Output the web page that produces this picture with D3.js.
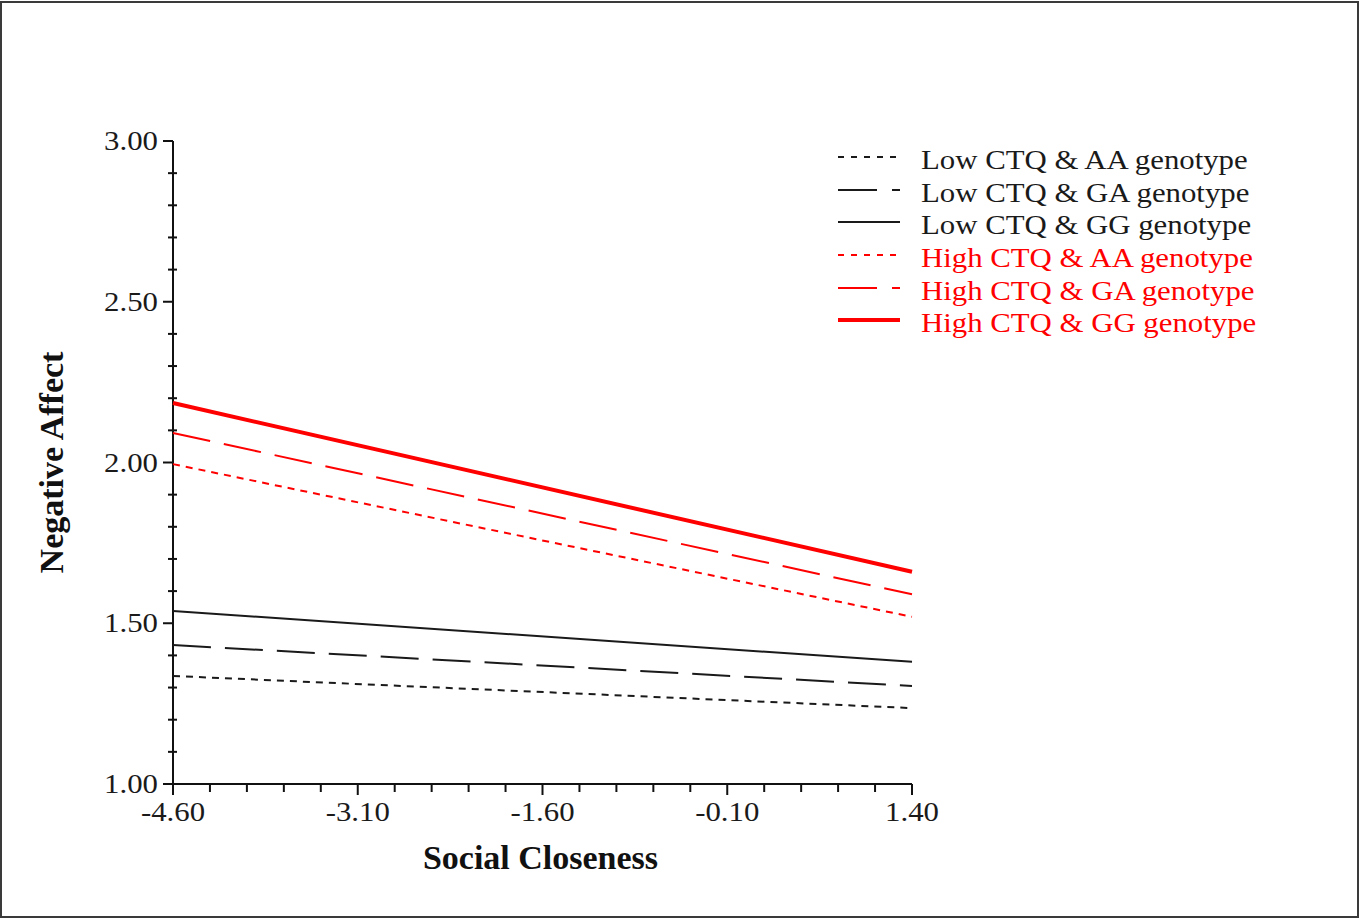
<!DOCTYPE html>
<html><head><meta charset="utf-8">
<script src="https://cdn.jsdelivr.net/npm/d3@7"></script>
<style>body{margin:0;background:#fff;}svg{display:block;}</style>
</head><body>
<svg id="chart" width="1360" height="919"></svg>
<script>
// ---- data ----
const xValues = [-4.6, 1.4];
const seriesNames = ["Low CTQ & AA genotype","Low CTQ & GA genotype","Low CTQ & GG genotype","High CTQ & AA genotype","High CTQ & GA genotype","High CTQ & GG genotype"];
const lowAA  = [1.336, 1.236];
const lowGA  = [1.432, 1.305];
const lowGG  = [1.538, 1.380];
const highAA = [1.995, 1.520];
const highGA = [2.092, 1.590];
const highGG = [2.185, 1.660];
const xTicks = [-4.6, -3.1, -1.6, -0.1, 1.4];
const yTicks = [1.0, 1.5, 2.0, 2.5, 3.0];
const xTitle = "Social Closeness";
const yTitle = "Negative Affect";

const seriesValues = [lowAA, lowGA, lowGG, highAA, highGA, highGG];
const styles = [
  {color:"#1a1a1a", width:2, dash:"7,6", legDash:"6,7"},
  {color:"#1a1a1a", width:2, dash:"38,14", legDash:"39,15,8,100"},
  {color:"#1a1a1a", width:2, dash:null, legDash:null},
  {color:"#ff0000", width:2, dash:"7,6", legDash:"6,7"},
  {color:"#ff0000", width:2, dash:"38,14", legDash:"39,15,8,100"},
  {color:"#ff0000", width:4, dash:null, legDash:null}
];

const svg = d3.select("#chart");
svg.append("rect").attr("x",1).attr("y",2).attr("width",1357).attr("height",915)
  .attr("fill","#fff").attr("stroke","#3a3a3a").attr("stroke-width",2);

const x = d3.scaleLinear().domain([-4.6, 1.4]).range([173, 912]);
const y = d3.scaleLinear().domain([1, 3]).range([784, 141]);
const font = "'Liberation Serif','Times New Roman',serif";

// axes lines
const axisColor = "#111";
svg.append("line").attr("x1",x(-4.6)).attr("x2",x(1.4)).attr("y1",y(1)).attr("y2",y(1))
  .attr("stroke",axisColor).attr("stroke-width",2);
svg.append("line").attr("x1",x(-4.6)).attr("x2",x(-4.6)).attr("y1",y(1)).attr("y2",y(3))
  .attr("stroke",axisColor).attr("stroke-width",2);

// minor ticks
const yMinor = d3.range(10, 31).map(d => d/10).filter(v => !yTicks.some(t => Math.abs(t-v)<1e-6));
svg.selectAll(".yminor").data(yMinor).join("line")
  .attr("x1",x(-4.6)-5).attr("x2",x(-4.6)+4).attr("y1",d=>y(d)).attr("y2",d=>y(d))
  .attr("stroke",axisColor).attr("stroke-width",2);
const xMinor = d3.range(0, 21).map(i => -4.6 + i*0.3).filter(v => !xTicks.some(t => Math.abs(t-v)<1e-6));
svg.selectAll(".xminor").data(xMinor).join("line")
  .attr("x1",d=>x(d)).attr("x2",d=>x(d)).attr("y1",y(1)).attr("y2",y(1)+8)
  .attr("stroke",axisColor).attr("stroke-width",2);

// major ticks + labels
svg.selectAll(".ymajor").data(yTicks).join("line")
  .attr("x1",x(-4.6)-10).attr("x2",x(-4.6)).attr("y1",d=>y(d)).attr("y2",d=>y(d))
  .attr("stroke",axisColor).attr("stroke-width",2);
svg.selectAll(".xmajor").data(xTicks).join("line")
  .attr("x1",d=>x(d)).attr("x2",d=>x(d)).attr("y1",y(1)).attr("y2",y(1)+11)
  .attr("stroke",axisColor).attr("stroke-width",2);

const fmt = d => d.toFixed(2);
svg.selectAll(".ylab").data(yTicks).join("text")
  .attr("transform", d => `translate(${x(-4.6)-15},${y(d)+9}) scale(1.1,1)`)
  .attr("text-anchor","end").attr("font-family",font).attr("font-size",28)
  .attr("fill","#1a1a1a").text(d=>fmt(d));
svg.selectAll(".xlab").data(xTicks).join("text")
  .attr("transform", d => `translate(${x(d)},${y(1)+37}) scale(1.1,1)`)
  .attr("text-anchor","middle").attr("font-family",font).attr("font-size",28)
  .attr("fill","#1a1a1a").text(d=>fmt(d));

// titles
svg.append("text").attr("x",(x(-4.6)+x(1.4))/2 - 2).attr("y",869)
  .attr("text-anchor","middle").attr("font-family",font).attr("font-weight","bold")
  .attr("font-size",34).attr("fill","#111").text(xTitle);
svg.append("text").attr("transform",`translate(63,${(y(1)+y(3))/2}) rotate(-90)`)
  .attr("text-anchor","middle").attr("font-family",font).attr("font-weight","bold")
  .attr("font-size",34).attr("fill","#111").text(yTitle);

// lines
const line = d3.line().x((d,i)=>x(xValues[i])).y(d=>y(d));
svg.selectAll(".series").data(seriesValues).join("path")
  .attr("d", d=>line(d)).attr("fill","none")
  .attr("stroke",(d,i)=>styles[i].color).attr("stroke-width",(d,i)=>styles[i].width)
  .attr("stroke-dasharray",(d,i)=>styles[i].dash);

// legend
const legY = [157, 190, 222, 255, 288, 320];
const leg = svg.selectAll(".leg").data(seriesNames).join("g")
  .attr("transform",(d,i)=>`translate(838,${legY[i]})`);
leg.append("line").attr("x1",0).attr("x2",62).attr("y1",0).attr("y2",0)
  .attr("stroke",(d,i)=>styles[i].color).attr("stroke-width",(d,i)=>styles[i].width)
  .attr("stroke-dasharray",(d,i)=>styles[i].legDash);
leg.append("text").attr("transform","translate(83,12) scale(1.1,1)")
  .attr("font-family",font).attr("font-size",28)
  .attr("fill",(d,i)=> i<3 ? "#1a1a1a" : "#ff0000").text(d=>d);
</script>
</body></html>
